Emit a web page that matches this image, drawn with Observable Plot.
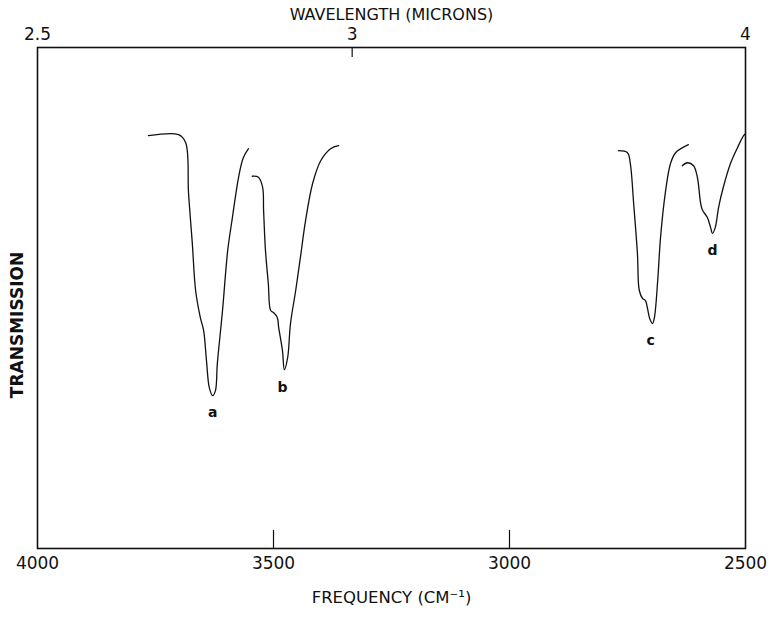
<!DOCTYPE html>
<html>
<head>
<meta charset="utf-8">
<script src="https://cdn.jsdelivr.net/npm/d3@7"></script>
<script src="https://cdn.jsdelivr.net/npm/@observablehq/plot@0.6"></script>
<style>
  body { margin: 0; background: #fff; }
  #chart svg { display: block; }
</style>
</head>
<body>
<div id="chart"></div>
<script>
// Band a
const freqA  = [3765, 3701, 3686, 3680, 3672, 3665, 3655, 3648, 3642, 3636, 3629, 3623, 3619, 3608, 3597, 3587, 3574, 3564, 3553];
const transA = [82.4, 82.6, 81.0, 70.9, 60.9, 51.5, 46.1, 43.5, 37.5, 32.1, 30.5, 31.5, 36.9, 47.5, 59.5, 66.1, 74.1, 78.0, 79.8];
// Band b
const freqB  = [3545, 3532, 3523, 3521, 3517, 3511, 3506, 3500, 3492, 3489, 3481, 3477, 3470, 3464, 3453, 3443, 3432, 3417, 3400, 3379, 3362];
const transB = [74.3, 74.1, 72.1, 67.5, 59.5, 52.9, 47.5, 47.1, 46.1, 44.1, 39.5, 35.7, 38.1, 44.9, 51.5, 58.1, 65.5, 72.9, 77.4, 79.8, 80.4];
// Band c
const freqC  = [2769, 2750, 2744, 2737, 2729, 2725, 2718, 2712, 2708, 2703, 2697, 2693, 2686, 2680, 2670, 2659, 2648, 2621];
const transC = [79.4, 79.0, 76.8, 68.9, 58.9, 51.5, 49.9, 49.5, 48.1, 45.9, 44.9, 46.1, 53.5, 62.1, 70.9, 76.8, 79.0, 80.6];
// Band d
const freqD  = [2634, 2623, 2610, 2602, 2595, 2591, 2581, 2574, 2570, 2564, 2557, 2547, 2532, 2517, 2504, 2500];
const transD = [76.4, 77.0, 76.4, 74.1, 68.9, 67.5, 66.1, 64.1, 62.9, 64.1, 68.1, 72.1, 76.8, 80.0, 82.4, 82.8];

// Band labels
const bandNames = ["a", "b", "c", "d"];
const bandFreq  = [3629, 3481, 2701, 2570];
const bandTrans = [27.1, 32.1, 41.5, 59.5];

// Axis ticks
const freqTicks = [4000, 3500, 3000, 2500];
const innerTicks = [3500, 3000];
const wavelengthTicks = [2.5, 3, 4];
const wavelengthInnerTicks = [3];

const bands = [
  ["a", freqA, transA], ["b", freqB, transB],
  ["c", freqC, transC], ["d", freqD, transD]
].flatMap(([band, f, t]) => f.map((v, i) => ({band, freq: v, trans: t[i]})));
const labels = bandNames.map((n, i) => ({name: n, freq: bandFreq[i], trans: bandTrans[i]}));

const font = "'DejaVu Sans', sans-serif";

const chart = Plot.plot({
  width: 774,
  height: 631,
  marginLeft: 37,
  marginRight: 29,
  marginTop: 47,
  marginBottom: 83,
  style: {fontFamily: font, fontSize: "17px", color: "#111", background: "#fff"},
  x: {domain: [4000, 2500], axis: null},
  y: {domain: [0, 100], axis: null},
  marks: [
    Plot.frame({stroke: "#111", strokeWidth: 1.6}),
    Plot.axisX({anchor: "bottom", ticks: freqTicks, tickSize: 0, tickPadding: 8, label: null,
      tickFormat: d => String(d), fontSize: 17}),
    Plot.axisX({anchor: "top", ticks: wavelengthTicks.map(w => 10000 / w), tickSize: 0, tickPadding: 8,
      tickFormat: d => String(Math.round(10000 / d * 10) / 10), label: null, fontSize: 17}),
    Plot.ruleX(innerTicks, {y1: 0, y2: 3.6, stroke: "#111", strokeWidth: 1.2}),
    Plot.ruleX(wavelengthInnerTicks.map(w => 10000 / w), {y1: 100, y2: 98, stroke: "#111", strokeWidth: 1.2}),
    Plot.line(bands, {x: "freq", y: "trans", z: "band", stroke: "#111", strokeWidth: 1.3, curve: "catmull-rom"}),
    Plot.text(labels, {x: "freq", y: "trans", text: "name", fontWeight: "bold", fontSize: 14}),
    Plot.text(["WAVELENGTH (MICRONS)"], {frameAnchor: "top", lineAnchor: "middle", dy: -33, fontSize: 16}),
    Plot.text(["FREQUENCY (CM\u207B\u00B9)"], {frameAnchor: "bottom", lineAnchor: "middle", dy: 49, fontSize: 16.5}),
    Plot.text(["TRANSMISSION"], {frameAnchor: "left", textAnchor: "middle", lineAnchor: "middle",
      dx: -20, dy: 27, rotate: -90, fontSize: 17, fontWeight: "bold"})
  ]
});
document.getElementById("chart").appendChild(chart);
</script>
</body>
</html>
